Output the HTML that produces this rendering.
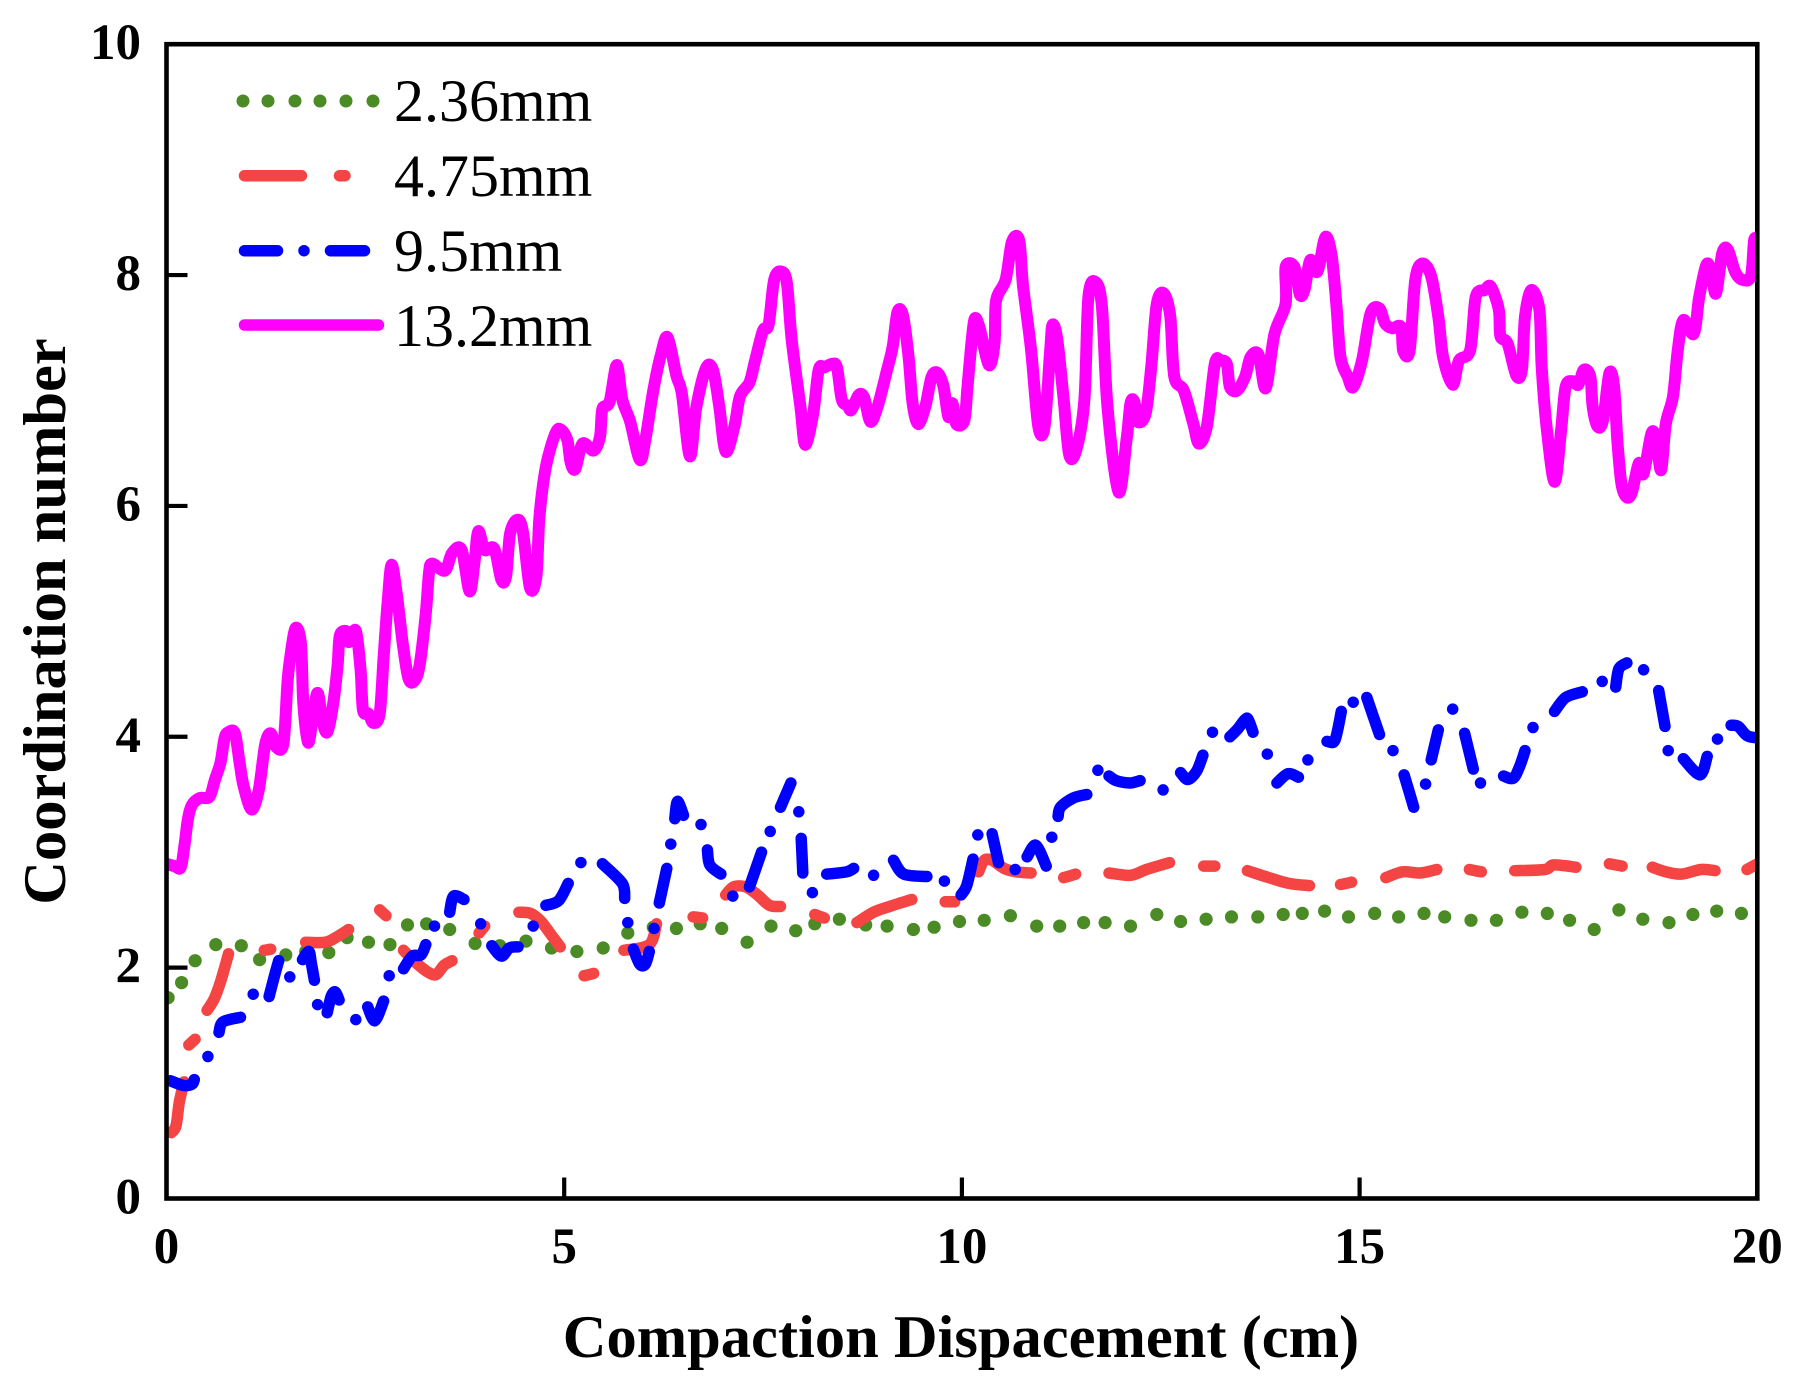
<!DOCTYPE html>
<html lang="en">
<head>
<meta charset="utf-8">
<title>Coordination number vs compaction displacement</title>
<style>
html,body{margin:0;padding:0;background:#fff;width:1807px;height:1394px;overflow:hidden}
svg{display:block}
text{font-family:"Liberation Serif","Times New Roman",serif;fill:#000}
.tick{font-weight:bold;font-size:51px}
.title{font-weight:bold;font-size:60.5px}
.legend{font-size:60px}
</style>
</head>
<body>
<svg id="chart" xmlns="http://www.w3.org/2000/svg" width="1807" height="1394" viewBox="0 0 1807 1394">
  <defs>
    <clipPath id="plot-clip"><rect x="166.5" y="44" width="1591" height="1154.5"></rect></clipPath>
  </defs>
  <rect x="0" y="0" width="1807" height="1394" fill="#fff"></rect>
  <g id="series" clip-path="url(#plot-clip)"></g>
  <g id="axes"></g>
  <text class="title" x="961" y="1357" text-anchor="middle">Compaction Dispacement (cm)</text>
  <text class="title" transform="translate(65,621.5) rotate(-90)" text-anchor="middle">Coordination number</text>
  <g>
    <g>
      <path d="M243 101L243 101M268 101L268 101M295 101L295 101M320 101L320 101M346 101L346 101M373 101L373 101" stroke="#4b8b26" stroke-width="13" stroke-linecap="round" fill="none"></path>
      <text class="legend" x="394" y="121">2.36mm</text>
    </g>
    <g>
      <path d="M244.5 175.7L301.5 175.7M339.5 175.7L345 175.7" stroke="#f44444" stroke-width="11.5" stroke-linecap="round" fill="none"></path>
      <text class="legend" x="394" y="196">4.75mm</text>
    </g>
    <g>
      <path d="M244.5 250.7L277.5 250.7M304 250.7L304 250.7M330.5 250.7L364.5 250.7" stroke="#0000ff" stroke-width="11.5" stroke-linecap="round" fill="none"></path>
      <text class="legend" x="394" y="271">9.5mm</text>
    </g>
    <g>
      <path d="M244.5 325L378.5 325" stroke="#ff00ff" stroke-width="11.5" stroke-linecap="round" fill="none"></path>
      <text class="legend" x="394" y="346">13.2mm</text>
    </g>
  </g>
</svg>
<script>
const xTicks = [0, 5, 10, 15, 20];
const yTicks = [0, 2, 4, 6, 8, 10];

const greenX = [0.02,0.19,0.36,0.62,0.94,1.17,1.5,1.75,2.04,2.27,2.54,2.81,3.03,3.27,3.56,3.88,4.19,4.52,4.84,5.16,5.49,5.8,6.12,6.41,6.71,6.98,7.3,7.6,7.91,8.15,8.46,8.79,9.06,9.39,9.65,9.97,10.28,10.61,10.94,11.23,11.53,11.8,12.12,12.45,12.75,13.07,13.39,13.72,14.04,14.28,14.56,14.86,15.19,15.49,15.81,16.07,16.4,16.72,17.04,17.36,17.64,17.95,18.26,18.56,18.89,19.19,19.49,19.8];
const greenY = [1.74,1.87,2.06,2.2,2.19,2.07,2.11,2.14,2.13,2.26,2.22,2.2,2.37,2.38,2.33,2.21,2.19,2.23,2.17,2.14,2.17,2.3,2.35,2.34,2.38,2.34,2.22,2.36,2.32,2.38,2.42,2.37,2.36,2.33,2.35,2.4,2.41,2.45,2.36,2.36,2.39,2.39,2.36,2.46,2.4,2.42,2.44,2.44,2.46,2.47,2.49,2.44,2.47,2.44,2.47,2.44,2.41,2.41,2.48,2.47,2.41,2.33,2.5,2.42,2.39,2.46,2.49,2.47];

const redX = [0.06,0.12,0.16,0.22,null,0.28,0.36,null,0.51,0.6,0.68,0.78,null,1.23,1.31,null,1.75,2.0,2.15,2.29,null,2.68,2.76,null,2.98,3.14,3.29,3.39,3.49,3.59,null,3.93,4.0,null,4.43,4.58,4.71,4.83,4.95,null,5.25,5.37,null,5.75,6.07,6.16,null,6.62,6.74,null,7.03,7.13,7.28,7.43,7.58,7.72,null,8.15,8.27,null,8.68,8.89,9.09,9.37,null,9.79,9.91,null,10.21,10.28,10.38,10.53,10.68,10.87,null,11.28,11.43,null,11.85,12.12,12.32,12.61,null,13.04,13.18,null,13.59,13.86,14.11,14.37,null,14.76,14.9,null,15.33,15.54,15.76,15.97,null,16.38,16.53,null,16.95,17.33,17.44,17.72,null,18.14,18.3,null,18.68,18.85,19.05,19.29,19.47,null,19.87,20];
const redY = [0.57,0.63,0.83,1.01,null,1.33,1.38,null,1.63,1.73,1.88,2.12,null,2.15,2.16,null,2.22,2.22,2.27,2.33,null,2.5,2.45,null,2.15,2.04,1.96,1.94,2.02,2.06,null,2.3,2.36,null,2.48,2.47,2.4,2.29,2.18,null,1.93,1.95,null,2.15,2.2,2.38,null,2.44,2.43,null,2.63,2.7,2.7,2.63,2.54,2.53,null,2.46,2.43,null,2.39,2.48,2.53,2.59,null,2.57,2.57,null,2.83,2.93,2.93,2.86,2.83,2.82,null,2.78,2.81,null,2.82,2.8,2.85,2.91,null,2.88,2.88,null,2.84,2.78,2.73,2.71,null,2.72,2.74,null,2.78,2.83,2.82,2.85,null,2.85,2.83,null,2.84,2.85,2.89,2.87,null,2.9,2.88,null,2.87,2.83,2.81,2.85,2.84,null,2.85,2.9];

const blueX = [0.05,0.21,0.32,0.35,null,0.52,null,0.66,0.71,0.93,null,1.09,null,1.29,1.35,1.41,null,1.55,null,1.71,1.79,1.82,1.86,null,1.9,null,2.02,2.07,2.12,2.17,null,2.38,null,2.53,2.62,2.73,null,2.8,null,2.98,3.09,3.2,3.26,null,3.37,null,3.56,3.61,3.74,null,3.95,null,4.09,4.21,4.31,4.42,null,4.61,null,4.77,4.93,5.05,null,5.21,null,5.48,5.73,5.76,null,5.8,null,5.87,5.95,6.02,6.07,null,6.13,null,6.195,6.29,null,6.34,null,6.39,6.425,6.5,null,6.72,null,6.8,6.83,6.97,null,7.12,null,7.33,7.48,null,7.59,null,7.72,7.85,null,7.95,null,7.98,8.0,null,8.12,null,8.3,8.55,8.64,null,8.89,null,9.14,9.27,9.56,null,9.78,null,9.99,10.06,10.14,null,10.2,null,10.38,10.46,null,10.67,null,10.82,10.93,11.06,null,11.13,null,11.21,11.24,11.4,11.57,null,11.71,null,11.85,11.94,12.11,12.24,null,12.53,null,12.75,12.84,12.95,13.03,null,13.15,null,13.37,13.47,13.56,13.6,13.66,null,13.84,null,13.96,14.1,14.23,null,14.35,null,14.59,14.69,14.77,null,14.92,null,15.09,15.25,null,15.42,null,15.56,15.68,null,15.83,null,15.9,15.99,null,16.17,null,16.32,16.43,null,16.52,null,16.81,16.93,17.01,17.08,null,17.18,null,17.45,17.59,17.8,null,18.05,null,18.22,18.26,18.36,null,18.57,null,18.76,18.84,null,18.88,null,19.07,19.28,19.37,null,19.5,null,19.67,19.76,19.87,20];
const blueY = [1.02,0.98,0.99,1.03,null,1.23,null,1.44,1.53,1.57,null,1.77,null,1.75,1.91,2.06,null,1.92,null,2.07,2.14,2.04,1.89,null,1.68,null,1.61,1.75,1.79,1.72,null,1.55,null,1.66,1.54,1.71,null,1.93,null,1.99,2.1,2.11,2.2,null,2.36,null,2.48,2.62,2.59,null,2.38,null,2.19,2.1,2.17,2.18,null,2.36,null,2.54,2.58,2.73,null,2.91,null,2.9,2.73,2.6,null,2.39,null,2.16,2.03,2.03,2.14,null,2.34,null,2.56,2.86,null,3.07,null,3.29,3.44,3.32,null,3.24,null,3.02,2.89,2.81,null,2.62,null,2.7,3.0,null,3.18,null,3.39,3.6,null,3.35,null,3.12,2.82,null,2.65,null,2.81,2.83,2.86,null,2.8,null,2.93,2.81,2.79,null,2.75,null,2.63,2.71,2.94,null,3.15,null,3.16,2.91,null,2.85,null,2.96,3.06,2.88,null,3.13,null,3.31,3.39,3.47,3.5,null,3.71,null,3.66,3.62,3.6,3.62,null,3.54,null,3.69,3.63,3.7,3.84,null,4.04,null,4.0,4.07,4.15,4.15,4.04,null,3.85,null,3.6,3.68,3.65,null,3.8,null,3.96,3.97,4.22,null,4.3,null,4.34,4.02,null,3.88,null,3.67,3.39,null,3.59,null,3.8,4.06,null,4.24,null,4.03,3.72,null,3.6,null,3.66,3.64,3.74,3.88,null,4.08,null,4.22,4.34,4.39,null,4.48,null,4.43,4.59,4.64,null,4.58,null,4.4,4.09,null,3.88,null,3.81,3.67,3.83,null,3.98,null,4.1,4.09,4.01,3.99];

const magentaX = [0,0.1,0.18,0.23,0.27,0.32,0.42,0.54,0.61,0.68,0.73,0.78,0.86,0.92,0.97,1.07,1.16,1.24,1.31,1.38,1.47,1.52,1.55,1.62,1.69,1.72,1.78,1.84,1.9,1.96,2.02,2.09,2.15,2.18,2.27,2.29,2.38,2.44,2.47,2.54,2.6,2.68,2.73,2.78,2.83,2.9,2.97,3.04,3.11,3.18,3.26,3.3,3.34,3.5,3.59,3.71,3.81,3.87,3.92,4.0,4.12,4.21,4.27,4.32,4.41,4.48,4.57,4.65,4.69,4.77,4.89,4.96,5.04,5.08,5.14,5.23,5.37,5.45,5.48,5.57,5.66,5.73,5.83,5.95,6.02,6.12,6.22,6.3,6.41,6.48,6.58,6.66,6.78,6.87,6.95,7.03,7.14,7.21,7.33,7.4,7.5,7.57,7.64,7.73,7.8,7.86,7.97,8.03,8.13,8.2,8.27,8.37,8.43,8.49,8.56,8.61,8.7,8.77,8.85,8.94,9.06,9.13,9.19,9.26,9.33,9.38,9.45,9.54,9.62,9.7,9.77,9.83,9.88,9.93,10.03,10.07,10.12,10.16,10.22,10.34,10.41,10.43,10.55,10.63,10.72,10.77,10.87,10.96,11.04,11.11,11.14,11.2,11.28,11.35,11.44,11.54,11.59,11.68,11.76,11.83,11.97,12.07,12.12,12.17,12.21,12.31,12.38,12.45,12.54,12.62,12.67,12.79,12.91,12.98,13.08,13.18,13.25,13.33,13.37,13.46,13.56,13.63,13.73,13.82,13.93,14.07,14.07,14.18,14.25,14.31,14.38,14.47,14.57,14.65,14.71,14.76,14.85,14.92,15.03,15.14,15.25,15.32,15.41,15.52,15.55,15.63,15.7,15.79,15.9,15.99,16.05,16.17,16.25,16.39,16.46,16.57,16.65,16.75,16.77,16.86,16.97,17.04,17.08,17.16,17.26,17.29,17.35,17.45,17.53,17.59,17.68,17.75,17.82,17.9,17.93,17.99,18.06,18.14,18.2,18.24,18.29,18.35,18.42,18.51,18.57,18.67,18.73,18.79,18.85,18.94,19.0,19.07,19.2,19.27,19.36,19.42,19.48,19.56,19.63,19.72,19.81,19.92,19.96,20];
const magentaY = [2.9,2.88,2.87,3.08,3.29,3.41,3.47,3.48,3.63,3.78,3.99,4.04,4.03,3.77,3.57,3.37,3.54,3.93,4.03,3.91,3.94,4.46,4.66,4.94,4.81,4.29,3.95,4.17,4.38,4.14,4.04,4.26,4.61,4.88,4.91,4.82,4.92,4.58,4.23,4.2,4.12,4.2,4.69,5.16,5.49,5.21,4.81,4.51,4.48,4.61,5.07,5.42,5.5,5.44,5.59,5.62,5.26,5.5,5.78,5.62,5.63,5.36,5.39,5.76,5.88,5.78,5.29,5.39,5.91,6.34,6.63,6.66,6.57,6.38,6.32,6.54,6.48,6.6,6.84,6.9,7.22,6.92,6.73,6.4,6.57,7.0,7.32,7.46,7.13,6.97,6.43,6.85,7.19,7.18,6.86,6.47,6.69,6.95,7.07,7.26,7.52,7.57,7.96,8.03,7.93,7.44,6.86,6.53,6.8,7.18,7.2,7.23,7.2,6.92,6.87,6.83,6.96,6.94,6.73,6.86,7.18,7.38,7.68,7.65,7.29,6.89,6.71,6.86,7.12,7.15,7.03,6.77,6.89,6.71,6.74,7.03,7.41,7.62,7.55,7.22,7.41,7.78,7.96,8.29,8.3,7.9,7.35,6.69,6.69,7.35,7.57,7.44,6.92,6.44,6.49,6.92,7.81,7.94,7.73,6.86,6.12,6.57,6.89,6.9,6.73,6.8,7.2,7.75,7.84,7.64,7.12,7.0,6.71,6.54,6.69,7.23,7.26,7.23,7.03,7.0,7.12,7.29,7.31,7.02,7.49,7.75,8.07,8.07,7.83,7.88,8.13,8.03,8.33,8.16,7.73,7.29,7.12,7.03,7.26,7.67,7.71,7.58,7.54,7.55,7.34,7.35,7.96,8.1,7.99,7.64,7.29,7.05,7.26,7.35,7.81,7.87,7.9,7.7,7.47,7.41,7.13,7.18,7.64,7.87,7.7,7.2,6.69,6.21,6.63,7.03,7.08,7.05,7.18,7.12,6.86,6.69,6.74,7.15,7.03,6.57,6.2,6.08,6.11,6.37,6.28,6.63,6.57,6.31,6.71,6.95,7.35,7.61,7.49,7.81,8.09,8.03,7.84,8.19,8.22,8.03,7.96,7.99,8.3,8.3];

const SVG_NS = 'http://www.w3.org/2000/svg';
const plotLeft = 166.5, plotRight = 1757.3, plotTop = 44.2, plotBottom = 1198.5;
const xMin = 0, xMax = 20, yMin = 0, yMax = 10;
const tickLength = 21;
const smoothing = 0.16;

function xScale(v) { return plotLeft + (v - xMin) / (xMax - xMin) * (plotRight - plotLeft); }
function yScale(v) { return plotBottom - (v - yMin) / (yMax - yMin) * (plotBottom - plotTop); }
function fmt(v) { return +v.toFixed(1); }

function runPath(run) {
  let d = 'M' + fmt(run[0][0]) + ' ' + fmt(run[0][1]);
  if (run.length === 1) return d + 'L' + fmt(run[0][0]) + ' ' + fmt(run[0][1]);
  for (let i = 0; i < run.length - 1; i++) {
    const p0 = run[Math.max(i - 1, 0)];
    const p1 = run[i];
    const p2 = run[i + 1];
    const p3 = run[Math.min(i + 2, run.length - 1)];
    const c1x = p1[0] + (p2[0] - p0[0]) * smoothing;
    const c1y = p1[1] + (p2[1] - p0[1]) * smoothing;
    const c2x = p2[0] - (p3[0] - p1[0]) * smoothing;
    const c2y = p2[1] - (p3[1] - p1[1]) * smoothing;
    d += 'C' + fmt(c1x) + ' ' + fmt(c1y) + ' ' + fmt(c2x) + ' ' + fmt(c2y) + ' ' + fmt(p2[0]) + ' ' + fmt(p2[1]);
  }
  return d;
}

function linePath(xs, ys) {
  let d = '';
  let run = [];
  for (let i = 0; i <= xs.length; i++) {
    if (i === xs.length || xs[i] === null) {
      if (run.length) d += runPath(run);
      run = [];
      continue;
    }
    run.push([xScale(xs[i]), yScale(ys[i])]);
  }
  return d;
}

const seriesGroup = document.getElementById('series');
const axesGroup = document.getElementById('axes');

for (let i = 0; i < greenX.length; i++) {
  const dot = document.createElementNS(SVG_NS, 'circle');
  
  
  dot.setAttribute('cx', xScale(greenX[i]).toFixed(1));
  dot.setAttribute('cy', yScale(greenY[i]).toFixed(1));
  dot.setAttribute('r', '6.6');
  dot.setAttribute('fill', '#4b8b26');
  seriesGroup.appendChild(dot);
}

const redLine = document.createElementNS(SVG_NS, 'path');


redLine.setAttribute('d', linePath(redX, redY));
redLine.setAttribute('fill', 'none');
redLine.setAttribute('stroke', '#f44444');
redLine.setAttribute('stroke-width', '11.5');
redLine.setAttribute('stroke-linecap', 'round');
redLine.setAttribute('stroke-linejoin', 'round');
seriesGroup.appendChild(redLine);

const blueLine = document.createElementNS(SVG_NS, 'path');


blueLine.setAttribute('d', linePath(blueX, blueY));
blueLine.setAttribute('fill', 'none');
blueLine.setAttribute('stroke', '#0000ff');
blueLine.setAttribute('stroke-width', '11.5');
blueLine.setAttribute('stroke-linecap', 'round');
blueLine.setAttribute('stroke-linejoin', 'round');
seriesGroup.appendChild(blueLine);

const magentaLine = document.createElementNS(SVG_NS, 'path');


magentaLine.setAttribute('d', linePath(magentaX, magentaY));
magentaLine.setAttribute('fill', 'none');
magentaLine.setAttribute('stroke', '#ff00ff');
magentaLine.setAttribute('stroke-width', '12');
magentaLine.setAttribute('stroke-linecap', 'round');
magentaLine.setAttribute('stroke-linejoin', 'round');
seriesGroup.appendChild(magentaLine);

const frame = document.createElementNS(SVG_NS, 'rect');


frame.setAttribute('x', plotLeft);
frame.setAttribute('y', plotTop);
frame.setAttribute('width', plotRight - plotLeft);
frame.setAttribute('height', plotBottom - plotTop);
frame.setAttribute('fill', 'none');
frame.setAttribute('stroke', '#000');
frame.setAttribute('stroke-width', '4.6');
axesGroup.appendChild(frame);

xTicks.forEach(function (t) {
  const px = xScale(t);
  if (t !== xMin && t !== xMax) {
    const mark = document.createElementNS(SVG_NS, 'line');
    
    
    mark.setAttribute('x1', px);
    mark.setAttribute('x2', px);
    mark.setAttribute('y1', plotBottom);
    mark.setAttribute('y2', plotBottom - tickLength);
    mark.setAttribute('stroke', '#000');
    mark.setAttribute('stroke-width', '4.2');
    axesGroup.appendChild(mark);
  }
  const label = document.createElementNS(SVG_NS, 'text');
  
  
  label.setAttribute('class', 'tick');
  label.setAttribute('x', px);
  label.setAttribute('y', '1263');
  label.setAttribute('text-anchor', 'middle');
  label.textContent = String(t);
  axesGroup.appendChild(label);
});

yTicks.forEach(function (t) {
  const py = yScale(t);
  if (t !== yMin && t !== yMax) {
    const mark = document.createElementNS(SVG_NS, 'line');
    
    
    mark.setAttribute('x1', plotLeft);
    mark.setAttribute('x2', plotLeft + tickLength);
    mark.setAttribute('y1', py);
    mark.setAttribute('y2', py);
    mark.setAttribute('stroke', '#000');
    mark.setAttribute('stroke-width', '4.2');
    axesGroup.appendChild(mark);
  }
  const label = document.createElementNS(SVG_NS, 'text');
  
  
  label.setAttribute('class', 'tick');
  label.setAttribute('x', '141');
  label.setAttribute('y', (py + 15).toFixed(1));
  label.setAttribute('text-anchor', 'end');
  label.textContent = String(t);
  axesGroup.appendChild(label);
});
</script>
</body>
</html>
